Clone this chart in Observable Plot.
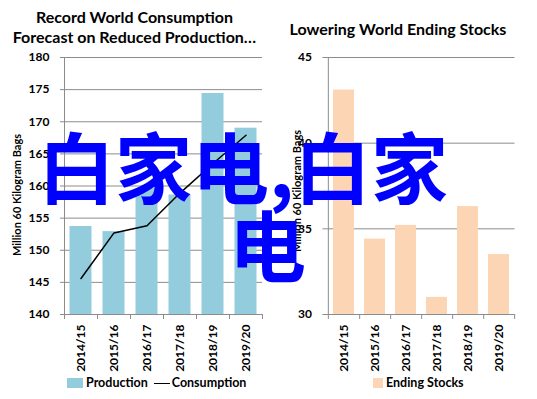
<!DOCTYPE html>
<html>
<head>
<meta charset="utf-8">
<script src="https://cdn.jsdelivr.net/npm/d3@7"></script>
<script src="https://cdn.jsdelivr.net/npm/@observablehq/plot@0.6"></script>
<style>
  body { margin: 0; background: #fff; }
  #page { position: relative; width: 537px; height: 399px; overflow: hidden; font-family: Lato, "Liberation Sans", sans-serif; font-weight: bold; color: #000; }
  .abs { position: absolute; }
  .title { font-size: 16px; line-height: 20px; text-align: center; white-space: nowrap; }
  .legend { font-size: 12.5px; line-height: 14px; white-space: nowrap; display: flex; align-items: center; }
  .sw { display: inline-block; width: 16px; height: 10px; margin-right: 3px; }
  .ln { display: inline-block; width: 16px; height: 0; border-top: 1.5px solid #000; margin: 0 2px 0 6px; }
  .overlay { font-family: "Noto Sans CJK SC", sans-serif; font-weight: bold; font-size: 77px; line-height: 77px; color: #0000ff; white-space: nowrap; z-index: 10; }
</style>
</head>
<body>
<div id="page">
  <div class="abs title" style="left:0; width:269px; top:7px;">Record World Consumption<br>Forecast on Reduced Production…</div>
  <div class="abs title" style="left:269px; width:258px; top:19px;">Lowering World Ending Stocks</div>
  <div id="left" class="abs" style="left:0; top:50px;"></div>
  <div id="right" class="abs" style="left:269px; top:50px;"></div>
  <div class="abs legend" style="left:67px; top:376px;"><span class="sw" style="background:#93cddd"></span>Production<span class="ln"></span>Consumption</div>
  <div class="abs legend" style="left:373px; top:376px;"><span class="sw" style="background:#fcd5b4; width:10px;"></span>Ending Stocks</div>
  <div class="abs overlay" style="left:38px; top:126px;">白家电,白家</div>
  <div class="abs overlay" style="left:229px; top:204px;">电</div>
</div>
<script>
const categories = ["2014/15", "2015/16", "2016/17", "2017/18", "2018/19", "2019/20"];
const production = [153.7, 152.9, 159.6, 158.6, 174.4, 169.0];
const consumption = [145.6, 152.7, 153.8, 158.9, 163.5, 167.9];
const endingStocks = [43.1, 34.4, 35.2, 31.0, 36.3, 33.5];
const leftTicks = [140, 145, 150, 155, 160, 165, 170, 175, 180];
const rightTicks = [30, 35, 40, 45];
const yLabel = "Million 60 Kilogram Bags";

const gridColor = "#8c8c8c";

function chart({values, ticks, fill, lineValues, width, marginLeft, marginRight, labelOffset, labelDy, inset}) {
  const height = 330, marginTop = 7, marginBottom = 66;
  const bw = (width - marginLeft - marginRight) / categories.length;
  const rows = categories.map((c, i) => ({c, v: values[i], l: lineValues ? lineValues[i] : null}));
  const y0 = ticks[0];
  const marks = [
    Plot.ruleY(ticks, {y: d => d, stroke: gridColor, strokeWidth: 1, insetLeft: -4, strokeOpacity: 1}),
    Plot.barY(rows, {x: "c", y1: y0, y2: "v", fill, insetLeft: inset, insetRight: inset}),
    Plot.ruleX([categories[0]], {x: d => d, dx: -bw / 2, stroke: gridColor, strokeOpacity: 1, insetBottom: -5}),
    Plot.ruleX(categories, {x: d => d, dx: bw / 2, y1: y0, y2: y0, stroke: gridColor, strokeOpacity: 1, insetBottom: -5}),
    Plot.axisY({ticks, tickSize: 0, tickPadding: 15, fontWeight: "bold", fontSize: 12, label: null}),
    Plot.axisX({tickSize: 0, tickRotate: -90, tickPadding: 10, fontWeight: "bold", fontSize: 12, label: null}),
    Plot.text([yLabel], {frameAnchor: "left", textAnchor: "middle", rotate: -90, dx: -labelOffset, dy: labelDy, fontSize: 11, fontWeight: "bold", fill: "#000"})
  ];
  if (lineValues) marks.push(Plot.line(rows, {x: "c", y: "l", stroke: "#000", strokeWidth: 1.5}));
  return Plot.plot({
    width, height, marginTop, marginBottom, marginLeft, marginRight,
    style: {fontFamily: "Lato, 'Liberation Sans', sans-serif", fontWeight: "bold", fontSize: "12px", background: "transparent", color: "#000", overflow: "visible"},
    x: {type: "band", domain: categories, padding: 0},
    y: {domain: [ticks[0], ticks[ticks.length - 1]]},
    marks
  });
}

document.getElementById("left").appendChild(chart({
  values: production, ticks: leftTicks, fill: "#93cddd", lineValues: consumption,
  width: 269, marginLeft: 64, marginRight: 7, labelOffset: 47, labelDy: 9, inset: 5.5
}));
document.getElementById("right").appendChild(chart({
  values: endingStocks, ticks: rightTicks, fill: "#fcd5b4", lineValues: null,
  width: 268, marginLeft: 57.5, marginRight: 22.5, labelOffset: 29.5, labelDy: 5, inset: 5
}));
</script>
</body>
</html>
